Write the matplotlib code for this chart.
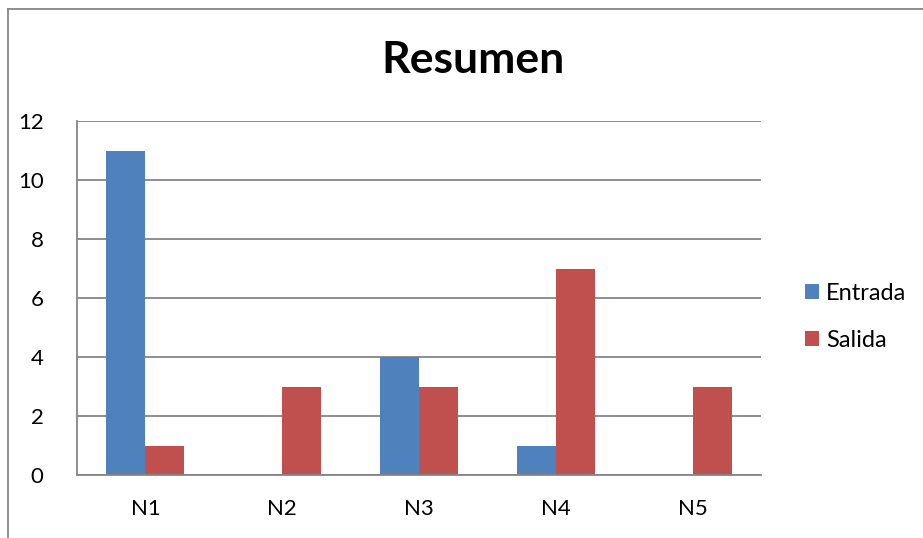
import numpy as np
import matplotlib.pyplot as plt
from matplotlib.lines import Line2D

categorias = ["N1", "N2", "N3", "N4", "N5"]
entrada = [11, 0, 4, 1, 0]
salida = [1, 3, 3, 7, 3]
yticks = [0, 2, 4, 6, 8, 10, 12]

plt.rcParams['font.family'] = ['Lato', 'DejaVu Sans']

fig = plt.figure(figsize=(9.23, 5.38), dpi=100)
ax = fig.add_axes([77 / 923, 1 - 475 / 538, 684 / 923, 354 / 538])

x = np.arange(len(categorias))
w = 0.285
ax.bar(x - w / 2, entrada, w, color="#4f81bd", label="Entrada")
ax.bar(x + w / 2, salida, w, color="#c0504d", label="Salida")

ax.set_xlim(-0.5, len(categorias) - 0.5)
ax.set_ylim(0, 12)
ax.set_yticks(yticks)
ax.set_xticks(x)
ax.set_xticklabels(categorias)
ax.yaxis.grid(True, color="#868686", linewidth=1.3)
ax.set_axisbelow(True)
ax.tick_params(length=0, labelsize=16, colors="black")
ax.tick_params(axis="y", pad=24)
ax.tick_params(axis="x", pad=17)
for s in ["top", "right"]:
    ax.spines[s].set_visible(False)
ax.spines["left"].set_color("#868686")
ax.spines["bottom"].set_color("#868686")
ax.spines["left"].set_linewidth(1.3)
ax.spines["bottom"].set_linewidth(1.3)

fig.text(473 / 923, 1 - 60 / 538, "Resumen", ha="center", va="center",
         fontsize=32, fontweight="bold")

ax.legend(loc="upper left", bbox_to_anchor=(805 / 923, 1 - 283 / 538),
          bbox_transform=fig.transFigure, frameon=False, fontsize=17,
          handlelength=0.6, handleheight=0.6, handletextpad=0.3,
          labelspacing=1.1, borderpad=0, borderaxespad=0)

# marco del grafico
fig.add_artist(Line2D([8 / 923, 8 / 923], [0, 1 - 9 / 538],
                      transform=fig.transFigure, color="#868686", linewidth=1.3))
fig.add_artist(Line2D([8 / 923, 1], [1 - 9 / 538, 1 - 9 / 538],
                      transform=fig.transFigure, color="#868686", linewidth=1.3))

fig.savefig("out.png", dpi=100)
